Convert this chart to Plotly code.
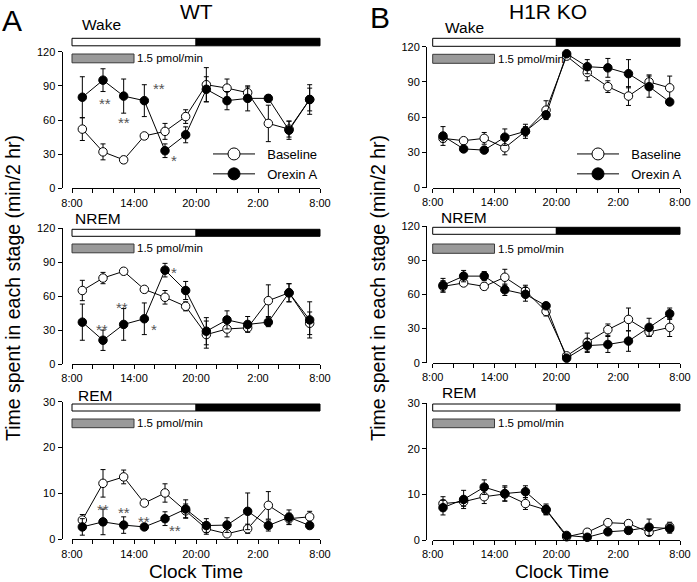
import plotly.graph_objects as go

W, H = 697, 582
FONT = "Liberation Sans, Arial, Helvetica, sans-serif"

# ---------------- data ----------------
hours = [9, 11, 13, 15, 17, 19, 21, 23, 25, 27, 29, 31]  # bin mid-points (clock hours, 8 = 8:00)
tick_hours = list(range(8, 33, 2))
tick_labels = ["8:00", "", "", "14:00", "", "", "20:00", "", "", "2:00", "", "", "8:00"]
light_period = (8, 20)
infusion_period = (8, 14)

# WT (panel A)
wt_wake_base = [52, 32, 25, 46, 50, 63, 91, 88, 84, 57, 52, 78]
wt_wake_base_err = [10, 7, 3, 1.5, 7, 6, 15, 8, 5, 16, 7, 10]
wt_wake_orex = [80, 95, 81, 77, 33, 47, 87, 77, 79, 79, 51, 78]
wt_wake_orex_err = [18, 10, 15, 14, 6, 7, 11, 8, 11, 3, 8, 13]

wt_nrem_base = [65, 76, 82, 66, 59, 51, 26, 31, 32, 56, 63, 36]
wt_nrem_base_err = [9, 5, 2, 1.5, 6, 4, 12, 7, 3, 14, 8, 10]
wt_nrem_orex = [37, 21, 35, 40, 83, 65, 29, 39, 35, 37, 63, 39]
wt_nrem_orex_err = [16, 9, 14, 14, 6, 8, 12, 8, 7, 4, 8, 16]

wt_rem_base = [4.2, 12.2, 13.6, 7.9, 10.1, 6.2, 2.3, 1.2, 2.3, 7.4, 4.5, 4.9]
wt_rem_base_err = [1.2, 3, 1.5, 0.5, 2, 1.5, 1.2, 0.6, 1.0, 3, 1.2, 1.2]
wt_rem_orex = [2.7, 3.8, 3.1, 2.7, 4.5, 6.6, 3.0, 3.1, 6.1, 3.0, 4.8, 3.0]
wt_rem_orex_err = [1.8, 2.8, 1.8, 0.5, 1.5, 2, 1.5, 1.6, 4, 1.2, 1.6, 0.6]

# H1R KO (panel B)
ko_wake_base = [42, 40, 42, 34, 48, 66, 112, 98, 86, 78, 90, 85]
ko_wake_base_err = [3, 2, 5, 6, 4, 8, 3, 7, 5, 8, 6, 10]
ko_wake_orex = [44, 33, 32, 43, 48, 62, 114, 103, 102, 97, 86, 73]
ko_wake_orex_err = [8, 2, 2, 7, 6, 3, 2, 6, 8, 12, 9, 2]

ko_nrem_base = [67, 70, 67, 75, 63, 45, 6, 18, 29, 38, 27, 31]
ko_nrem_base_err = [5, 3, 3, 7, 5, 4, 3, 8, 5, 10, 4, 8]
ko_nrem_orex = [68, 76, 76, 64, 60, 50, 4, 15, 16, 19, 31, 43]
ko_nrem_orex_err = [6, 5, 4, 5, 6, 2, 1, 6, 7, 9, 8, 5]

ko_rem_base = [8.0, 8.4, 9.5, 10.1, 8.0, 6.6, 0.7, 1.7, 3.8, 3.6, 1.7, 2.9]
ko_rem_base_err = [1.5, 1, 1.5, 1.5, 1.3, 1, 0.5, 0.7, 0.5, 0.7, 0.6, 1]
ko_rem_orex = [7.1, 8.9, 11.6, 10.2, 10.6, 6.7, 1.0, 0.6, 1.8, 2.1, 2.8, 2.5]
ko_rem_orex_err = [1.6, 2, 1.6, 1.7, 1.3, 1.2, 0.4, 0.3, 0.5, 0.6, 1.8, 1]

# significance marks: (label, clock hour, value)
wt_wake_sig = [("**", 11.2, 78), ("**", 13.0, 61), ("**", 16.45, 91), ("*", 17.9, 28)]
wt_nrem_sig = [("*", 17.9, 84.6), ("**", 12.8, 53.7), ("**", 10.9, 33.6), ("*", 15.9, 33.6)]
wt_rem_sig = [("**", 11.0, 7.3), ("**", 13.0, 6.8), ("**", 15.0, 4.7), ("**", 18.0, 2.8)]

stage_names = ["Wake", "NREM", "REM"]
group_titles = ["WT", "H1R KO"]
panel_letters = ["A", "B"]
series_names = ["Baseline", "Orexin A"]

# ---------------- layout geometry (pixels) ----------------
panels = [
    dict(base=wt_wake_base, be=wt_wake_base_err, orex=wt_wake_orex, oe=wt_wake_orex_err,
         ymax=120, yt=[0, 30, 60, 90, 120], px=(72, 320), py=(51.7, 188.3), yline=61.5,
         ld=(38.3, 45.8), gray=(54, 62.8), label=("Wake", 80, 25), sig=wt_wake_sig),
    dict(base=wt_nrem_base, be=wt_nrem_base_err, orex=wt_nrem_orex, oe=wt_nrem_orex_err,
         ymax=120, yt=[0, 30, 60, 90, 120], px=(72, 320), py=(228.3, 364), yline=61.5,
         ld=(229.3, 236.3), gray=(244, 252.8), label=("NREM", 72.5, 218), sig=wt_nrem_sig),
    dict(base=wt_rem_base, be=wt_rem_base_err, orex=wt_rem_orex, oe=wt_rem_orex_err,
         ymax=30, yt=[0, 10, 20, 30], px=(72, 320), py=(401.7, 539.3), yline=61.5,
         ld=(404, 411), gray=(419, 427.7), label=("REM", 75.5, 395), sig=wt_rem_sig),
    dict(base=ko_wake_base, be=ko_wake_base_err, orex=ko_wake_orex, oe=ko_wake_orex_err,
         ymax=120, yt=[0, 30, 60, 90, 120], px=(432.7, 680), py=(46.7, 187.7), yline=426,
         ld=(38.3, 46.3), gray=(54.3, 63.3), label=("Wake", 443, 27), sig=[]),
    dict(base=ko_nrem_base, be=ko_nrem_base_err, orex=ko_nrem_orex, oe=ko_nrem_orex_err,
         ymax=120, yt=[0, 30, 60, 90, 120], px=(432.7, 680), py=(226, 362.7), yline=426,
         ld=(227.3, 234.3), gray=(244, 253.3), label=("NREM", 439, 217), sig=[]),
    dict(base=ko_rem_base, be=ko_rem_base_err, orex=ko_rem_orex, oe=ko_rem_orex_err,
         ymax=30, yt=[0, 10, 20, 30], px=(432.7, 680), py=(403.3, 540), yline=426,
         ld=(404, 411), gray=(419, 427.7), label=("REM", 440, 392), sig=[]),
]


def fx(p):
    return p / W


def fy(p):
    return 1 - p / H


fig = go.Figure()
layout = dict(
    width=W, height=H, margin=dict(l=0, r=0, t=0, b=0, pad=0, autoexpand=False),
    paper_bgcolor="white", plot_bgcolor="rgba(0,0,0,0)",
    font=dict(family=FONT, color="black", size=11),
    showlegend=True,
)
shapes = []
annotations = []

xspan = tick_hours[-1] - tick_hours[0]

for i, p in enumerate(panels, start=1):
    xa = "x" if i == 1 else f"x{i}"
    ya = "y" if i == 1 else f"y{i}"
    xkey = "xaxis" if i == 1 else f"xaxis{i}"
    ykey = "yaxis" if i == 1 else f"yaxis{i}"
    layout[xkey] = dict(
        domain=[fx(p["px"][0]), fx(p["px"][1])], anchor=ya, automargin=False,
        range=[tick_hours[0], tick_hours[-1]], showgrid=False, zeroline=False,
        showline=True, linecolor="black", linewidth=1,
        tickmode="array", tickvals=tick_hours, ticktext=tick_labels,
        ticks="outside", ticklen=4, tickwidth=1, tickcolor="black",
        tickfont=dict(size=11, family=FONT),
    )
    layout[ykey] = dict(
        domain=[fy(p["py"][1]), fy(p["py"][0])], anchor="free", position=fx(p["yline"]),
        automargin=False,
        range=[0, p["ymax"]], showgrid=False, zeroline=False,
        showline=True, linecolor="black", linewidth=1,
        tickmode="array", tickvals=p["yt"],
        ticks="outside", ticklen=4, tickwidth=1, tickcolor="black",
        tickfont=dict(size=11, family=FONT),
    )
    for vals, errs, fill in ((p["base"], p["be"], "white"), (p["orex"], p["oe"], "black")):
        fig.add_trace(go.Scatter(
            x=hours, y=vals, xaxis=xa, yaxis=ya, mode="lines+markers",
            line=dict(color="black", width=1),
            marker=dict(size=8.5, color=fill, line=dict(color="black", width=1)),
            error_y=dict(type="data", array=errs, visible=True, color="black",
                         thickness=1, width=2.5),
            cliponaxis=False, showlegend=False, hoverinfo="skip",
        ))
    dx = f"{xa} domain"
    l0 = (light_period[0] - tick_hours[0]) / xspan
    l1 = (light_period[1] - tick_hours[0]) / xspan
    shapes.append(dict(type="rect", xref=dx, yref="paper", x0=l0, x1=l1,
                       y0=fy(p["ld"][1]), y1=fy(p["ld"][0]),
                       fillcolor="white", line=dict(color="black", width=1)))
    shapes.append(dict(type="rect", xref=dx, yref="paper", x0=l1, x1=1,
                       y0=fy(p["ld"][1]), y1=fy(p["ld"][0]),
                       fillcolor="black", line=dict(color="black", width=1)))
    g0 = (infusion_period[0] - tick_hours[0]) / xspan
    g1 = (infusion_period[1] - tick_hours[0]) / xspan
    shapes.append(dict(type="rect", xref=dx, yref="paper", x0=g0, x1=g1,
                       y0=fy(p["gray"][1]), y1=fy(p["gray"][0]),
                       fillcolor="#9a9a9a", line=dict(color="#3a3a3a", width=1)))
    annotations.append(dict(text="1.5 pmol/min", xref=dx, yref="paper", x=g1, xshift=1,
                            y=fy((p["gray"][0] + p["gray"][1]) / 2),
                            xanchor="left", yanchor="middle", showarrow=False,
                            font=dict(size=11.5, family=FONT)))
    name, lx, ly = p["label"]
    annotations.append(dict(text=name, xref="paper", yref="paper", x=fx(lx), y=fy(ly),
                            xanchor="left", yanchor="middle", showarrow=False,
                            font=dict(size=15.5, family=FONT)))
    for s, sx, sy in p["sig"]:
        annotations.append(dict(text=s, xref=xa, yref=ya, x=sx, y=sy, yshift=-4,
                                xanchor="center", yanchor="middle", showarrow=False,
                                font=dict(size=15, family=FONT, color="#555555")))

# legends (legend-only entries)
for lg in ("legend", "legend2"):
    for name, fill in zip(series_names, ("white", "black")):
        fig.add_trace(go.Scatter(
            x=[None], y=[None], mode="lines+markers", name="\u00a0\u00a0" + name,
            line=dict(color="black", width=1),
            marker=dict(size=12, color=fill, line=dict(color="black", width=1)),
            legend=lg, showlegend=True,
        ))
leg_common = dict(xanchor="left", yanchor="top", bgcolor="rgba(0,0,0,0)",
                  font=dict(size=13, family=FONT, color="black"),
                  itemwidth=42, tracegroupgap=0, borderwidth=0)
layout["legend"] = dict(x=fx(208), y=fy(139), **leg_common)
layout["legend2"] = dict(x=fx(572), y=fy(139), **leg_common)

# titles
for (title, tx), (letter, lx, ly) in zip(((group_titles[0], 196), (group_titles[1], 548)),
                                          ((panel_letters[0], 12, 21), (panel_letters[1], 380, 17))):
    annotations.append(dict(text=title, xref="paper", yref="paper", x=fx(tx), y=fy(11),
                            xanchor="center", yanchor="middle", showarrow=False,
                            font=dict(size=21, family=FONT)))
    annotations.append(dict(text=letter, xref="paper", yref="paper", x=fx(lx), y=fy(ly),
                            xanchor="center", yanchor="middle", showarrow=False,
                            font=dict(size=30, family=FONT)))

for cx in (196, 562):
    annotations.append(dict(text="Clock Time", xref="paper", yref="paper", x=fx(cx), y=fy(571),
                            xanchor="center", yanchor="middle", showarrow=False,
                            font=dict(size=19, family=FONT)))
for cx in (13, 378):
    annotations.append(dict(text="Time spent in each stage (min/2 hr)", xref="paper", yref="paper",
                            x=fx(cx), y=fy(288), textangle=-90,
                            xanchor="center", yanchor="middle", showarrow=False,
                            font=dict(size=19.5, family=FONT)))

layout["shapes"] = shapes
layout["annotations"] = annotations
fig.update_layout(**layout)
fig.write_html("out.html", config={"displayModeBar": False},
               post_script="document.body.style.margin='0';document.body.style.padding='0';")
